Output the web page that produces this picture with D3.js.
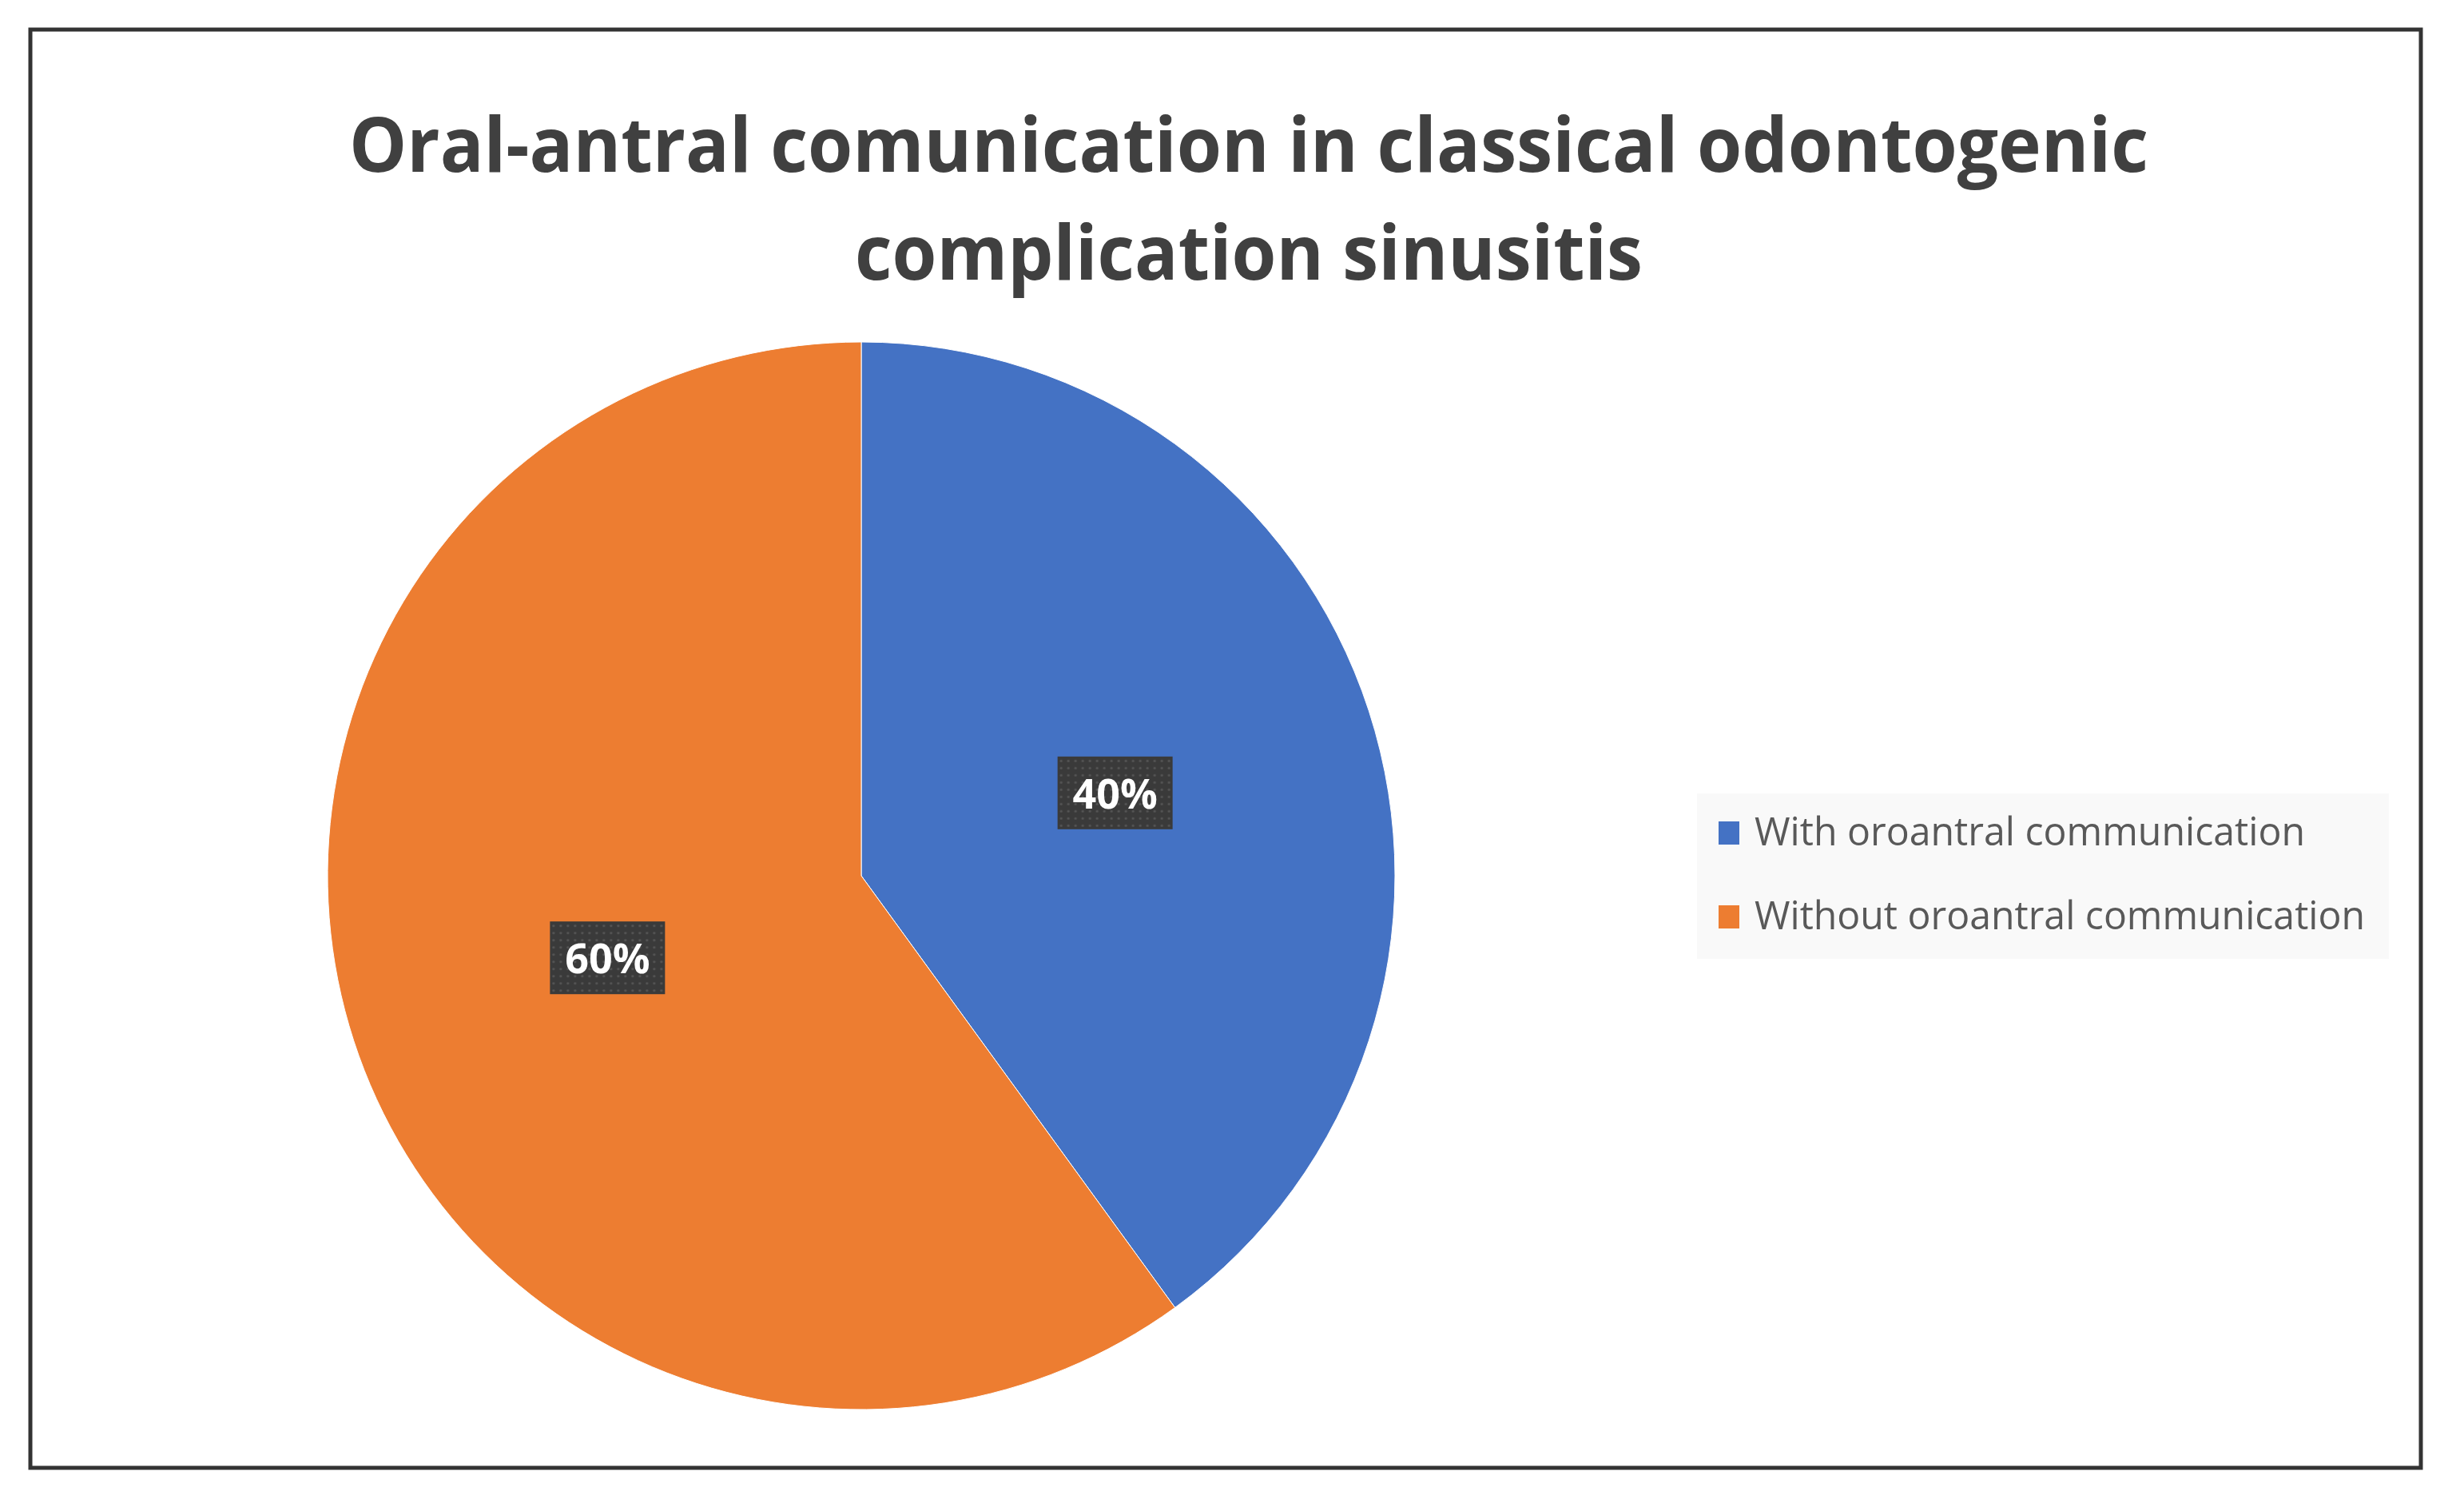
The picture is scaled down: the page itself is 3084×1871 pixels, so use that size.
<!DOCTYPE html>
<html>
<head>
<meta charset="utf-8">
<script src="https://cdn.jsdelivr.net/npm/d3@7"></script>
<style>
  html, body { margin: 0; padding: 0; background: #ffffff; }
  svg { display: block; }
</style>
</head>
<body>
<script>
// ---- data ----
const titleLines = ["Oral-antral comunication in classical odontogenic", "complication sinusitis"];
const categories = ["With oroantral communication", "Without oroantral communication"];
const values = [40, 60];
const colors = ["#4472C4", "#ED7D31"];

// ---- layout ----
const W = 3084, H = 1871;
const svg = d3.select("body").append("svg").attr("width", W).attr("height", H);

const defs = svg.append("defs");
const pat = defs.append("pattern").attr("id", "dots").attr("patternUnits", "userSpaceOnUse")
  .attr("width", 9).attr("height", 9);
pat.append("rect").attr("width", 9).attr("height", 9).attr("fill", "#3a3a3a");
pat.append("circle").attr("cx", 4.5).attr("cy", 4.5).attr("r", 1.6).attr("fill", "#555555");

// frame
svg.append("rect").attr("x", 38).attr("y", 37).attr("width", 2992).attr("height", 1800)
  .attr("fill", "#ffffff").attr("stroke", "#333333").attr("stroke-width", 5);

// title
const title = svg.append("g").attr("font-family", "'Open Sans', sans-serif").attr("font-weight", 700)
  .attr("fill", "#404040").attr("text-anchor", "middle");
const titleWidths = [2252, 986];
const titleY = [215, 350];
titleLines.forEach((t, i) => {
  title.append("text").attr("x", 1563).attr("y", titleY[i]).attr("font-size", 95)
    .attr("textLength", titleWidths[i]).attr("lengthAdjust", "spacingAndGlyphs").text(t);
});

// pie
const cx = 1078, cy = 1096, R = 668;
const total = d3.sum(values);
const pie = d3.pie().sort(null).value(d => d)(values);
const arc = d3.arc().innerRadius(0).outerRadius(R);
const g = svg.append("g").attr("transform", `translate(${cx},${cy})`);
g.selectAll("path.slice").data(pie).join("path").attr("class", "slice")
  .attr("d", arc).attr("fill", (d, i) => colors[i])
  .attr("stroke", "#ffffff").attr("stroke-width", 1);

// data labels
const fmt = d3.format(".0%");
const lab = g.selectAll("g.lab").data(pie).join("g").attr("class", "lab")
  .attr("transform", d => `translate(${arc.centroid(d)})`);
lab.append("rect").attr("x", -72).attr("y", -46).attr("width", 144).attr("height", 91)
  .attr("fill", "url(#dots)");
lab.append("text").attr("text-anchor", "middle").attr("y", 19)
  .attr("font-family", "'Open Sans', sans-serif").attr("font-weight", 700).attr("font-size", 52)
  .attr("fill", "#ffffff").text(d => fmt(d.value / total));

// legend
const leg = svg.append("g");
leg.append("rect").attr("x", 2124).attr("y", 993).attr("width", 866).attr("height", 207).attr("fill", "#f9f9f9");
const legWidths = [689, 764];
const item = leg.selectAll("g.item").data(categories).join("g").attr("class", "item")
  .attr("transform", (d, i) => `translate(2151, ${1058 + i * 105})`);
item.append("rect").attr("x", 0).attr("y", -30).attr("width", 26).attr("height", 29)
  .attr("fill", (d, i) => colors[i]);
item.append("text").attr("x", 45).attr("y", 0)
  .attr("font-family", "'Open Sans', sans-serif").attr("font-size", 50).attr("fill", "#595959")
  .attr("textLength", (d, i) => legWidths[i]).attr("lengthAdjust", "spacingAndGlyphs")
  .text(d => d);
</script>
</body>
</html>
